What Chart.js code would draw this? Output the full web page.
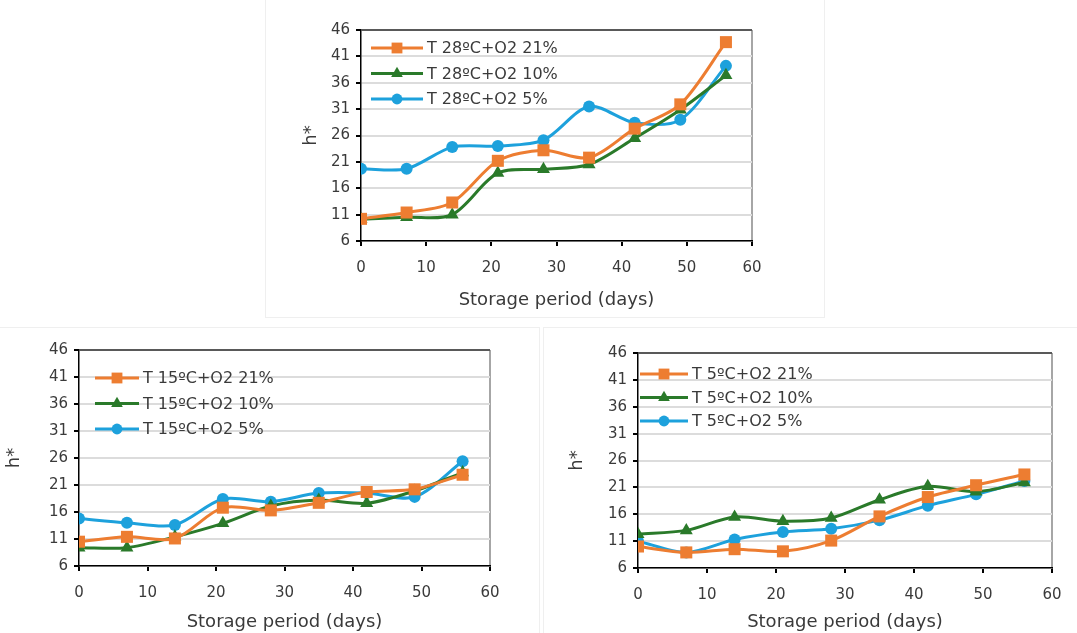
<!DOCTYPE html>
<html>
<head>
<meta charset="utf-8">
<script src="https://cdn.jsdelivr.net/npm/chart.js@4/dist/chart.umd.min.js"></script>
<style>
  html, body { margin: 0; padding: 0; background: #fff; }
  body { width: 1077px; height: 633px; position: relative; overflow: hidden; }
  .panel { position: absolute; border: 1px solid #efefef; box-sizing: border-box; }
  .panel canvas { display: block; }
</style>
</head>
<body>
<div class="panel" style="left:265px;top:-1px;width:560px;height:319px;"><canvas id="c28"></canvas></div>
<div class="panel" style="left:-1px;top:327px;width:541px;height:307px;"><canvas id="c15"></canvas></div>
<div class="panel" style="left:543px;top:327px;width:535px;height:307px;"><canvas id="c5"></canvas></div>
<script>
// storage days (x) and axis ticks
const days = [0, 7, 14, 21, 28, 35, 42, 49, 56];
const xTicks = [0, 10, 20, 30, 40, 50, 60];
const yTicks = [6, 11, 16, 21, 26, 31, 36, 41, 46];

// h* values
const t28_o21 = [10.2, 11.4, 13.3, 21.2, 23.2, 21.8, 27.3, 31.9, 43.7];
const t28_o10 = [10.1, 10.5, 11.0, 18.9, 19.6, 20.5, 25.5, 30.9, 37.4];
const t28_o5  = [19.7, 19.7, 23.8, 24.0, 25.1, 31.5, 28.4, 29.0, 39.2];

const t15_o21 = [10.5, 11.4, 11.1, 16.8, 16.3, 17.7, 19.7, 20.2, 22.9];
const t15_o10 = [9.4, 9.4, 11.4, 13.9, 17.1, 18.2, 17.6, 19.9, 23.3];
const t15_o5  = [14.8, 14.0, 13.6, 18.4, 17.9, 19.5, 19.5, 18.8, 25.4];

const t5_o21 = [10.0, 8.9, 9.5, 9.1, 11.1, 15.6, 19.2, 21.4, 23.4];
const t5_o10 = [12.3, 13.0, 15.5, 14.7, 15.3, 18.7, 21.2, 20.2, 21.9];
const t5_o5  = [11.0, 8.9, 11.3, 12.7, 13.3, 14.9, 17.6, 19.7, 22.2];

const labels28 = ['T 28ºC+O2 21%', 'T 28ºC+O2 10%', 'T 28ºC+O2 5%'];
const labels15 = ['T 15ºC+O2 21%', 'T 15ºC+O2 10%', 'T 15ºC+O2 5%'];
const labels5  = ['T 5ºC+O2 21%', 'T 5ºC+O2 10%', 'T 5ºC+O2 5%'];

const FONT = "'DejaVu Sans', sans-serif";
const TXT = '#3a3a3a';
const styles = [
  { color: '#ED7D31', point: 'rect', radius: 8.5 },
  { color: '#2A7A2A', point: 'triangle', radius: 7.5 },
  { color: '#1DA1DC', point: 'circle', radius: 6 },
];

const toXY = vals => vals.map((v, i) => ({ x: days[i], y: v }));

// legend drawn as line + marker, like the spreadsheet one
const lineLegend = {
  id: 'lineLegend',
  afterDraw(chart, args, opts) {
    const { ctx, chartArea } = chart;
    ctx.save();
    chart.data.datasets.forEach((ds, i) => {
      const y = chartArea.top + opts.top + i * opts.gap;
      const x0 = chartArea.left + opts.left;
      const x1 = x0 + opts.lineLen;
      ctx.strokeStyle = ds.borderColor;
      ctx.lineWidth = 3;
      ctx.beginPath(); ctx.moveTo(x0, y); ctx.lineTo(x1, y); ctx.stroke();
      ctx.fillStyle = ds.borderColor;
      Chart.helpers.drawPoint(ctx, { pointStyle: ds.pointStyle, radius: ds.pointRadius * 0.9, borderWidth: 0 }, (x0 + x1) / 2, y);
      ctx.fillStyle = TXT;
      ctx.font = `16px ${FONT}`;
      ctx.textBaseline = 'middle';
      ctx.fillText(ds.label, x1 + 4, y + 1);
    });
    ctx.restore();
  }
};

function makeChart(id, series, names, g) {
  const el = document.getElementById(id);
  el.width = g.w; el.height = g.h;
  return new Chart(el, {
    type: 'line',
    data: {
      datasets: series.map((s, i) => ({
        label: names[i],
        data: toXY(s),
        borderColor: styles[i].color,
        backgroundColor: styles[i].color,
        pointStyle: styles[i].point,
        pointRadius: styles[i].radius,
        pointBorderWidth: 0,
        borderWidth: 3,
        tension: 0.3,
      })),
    },
    options: {
      responsive: false,
      animation: false,
      layout: { padding: g.pad },
      plugins: {
        legend: { display: false },
        tooltip: { enabled: false },
        lineLegend: g.legend,
      },
      scales: {
        x: {
          type: 'linear', min: 0, max: 60,
          afterBuildTicks: s => { s.ticks = xTicks.map(v => ({ value: v })); },
          afterFit: s => { s.height = g.xh; },
          grid: {
            color: c => (c.tick && c.tick.value === 60 ? '#a6a6a6' : 'rgba(0,0,0,0)'),
            lineWidth: 2, tickColor: '#000', tickLength: 5,
          },
          border: { color: '#000', width: 1.5 },
          ticks: { color: TXT, font: { family: FONT, size: 15 }, padding: 13, maxRotation: 0 },
          title: { display: true, text: 'Storage period (days)', color: TXT, font: { family: FONT, size: 18 }, padding: 0 },
        },
        y: {
          min: 6, max: 46,
          afterBuildTicks: s => { s.ticks = yTicks.map(v => ({ value: v })); },
          afterFit: s => { s.width = g.yw; },
          grid: {
            color: c => (c.tick && c.tick.value === 46 ? '#595959' : '#dcdcdc'),
            lineWidth: 2, tickColor: '#000', tickLength: 5,
          },
          border: { color: '#000', width: 1.5 },
          ticks: { color: TXT, font: { family: FONT, size: 15 }, padding: 6 },
          title: { display: true, text: 'h*', color: TXT, font: { family: FONT, size: 18 }, padding: 0 },
        },
      },
    },
    plugins: [lineLegend],
  });
}

makeChart('c28', [t28_o21, t28_o10, t28_o5], labels28, {
  w: 558, h: 318, yw: 60, xh: 70,
  pad: { left: 35, top: 30, right: 72, bottom: 7 },
  legend: { left: 10, top: 18, gap: 25.5, lineLen: 52 },
});
makeChart('c15', [t15_o21, t15_o10, t15_o5], labels15, {
  w: 540, h: 306, yw: 75, xh: 67,
  pad: { left: 4, top: 22, right: 50, bottom: 1 },
  legend: { left: 16, top: 28, gap: 25.5, lineLen: 44 },
});
makeChart('c5', [t5_o21, t5_o10, t5_o5], labels5, {
  w: 533, h: 306, yw: 71, xh: 65,
  pad: { left: 23, top: 25, right: 25, bottom: 1 },
  legend: { left: 2, top: 21, gap: 23.5, lineLen: 48 },
});
</script>
</body>
</html>
